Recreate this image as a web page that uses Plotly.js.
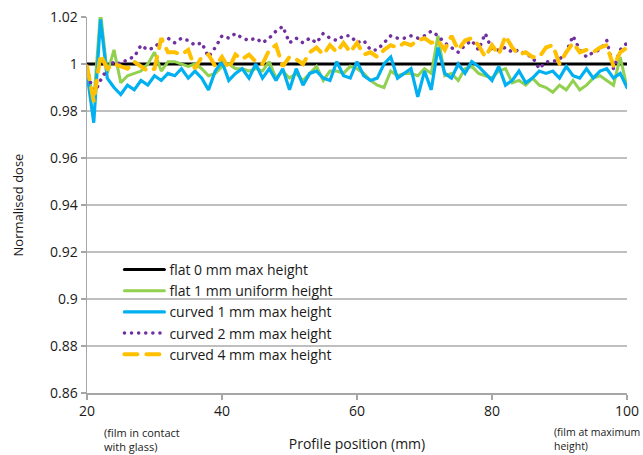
<!DOCTYPE html>
<html>
<head>
<meta charset="utf-8">
<script src="https://cdn.plot.ly/plotly-3.0.1.min.js"></script>
<style>
html,body{margin:0;padding:0;background:#fff;}
#chart{width:643px;height:455px;}
path.js-line{stroke-linecap:round;}
</style>
</head>
<body>
<div id="chart"></div>
<script>
// Profile position (mm)
const positions = [20,21,22,23,24,25,26,27,28,29,30,31,32,33,34,35,36,37,38,39,40,41,42,43,44,45,46,47,48,49,50,51,52,53,54,55,56,57,58,59,60,61,62,63,64,65,66,67,68,69,70,71,72,73,74,75,76,77,78,79,80,81,82,83,84,85,86,87,88,89,90,91,92,93,94,95,96,97,98,99,100];

const flat0 = [1,1,1,1,1,1,1,1,1,1,1,1,1,1,1,1,1,1,1,1,1,1,1,1,1,1,1,1,1,1,1,1,1,1,1,1,1,1,1,1,1,1,1,1,1,1,1,1,1,1,1,1,1,1,1,1,1,1,1,1,1,1,1,1,1,1,1,1,1,1,1,1,1,1,1,1,1,1,1,1,1];

const flat1 = [0.998,0.984,1.022,0.996,1.006,0.992,0.995,0.996,0.997,1.000,
1.005,0.997,1.001,1.001,1.000,0.999,1.000,0.998,0.995,0.996,
0.999,1.000,0.998,0.998,0.997,0.998,0.997,1.001,0.994,0.997,
0.994,0.996,0.993,0.996,0.999,0.993,0.997,0.997,0.996,0.999,
0.998,0.996,0.993,0.991,0.990,0.997,0.995,0.996,0.996,0.995,
0.998,0.996,1.012,0.995,0.996,0.993,0.998,0.999,0.996,0.995,
0.994,0.997,0.998,0.992,0.993,0.991,0.994,0.991,0.990,0.988,
0.991,0.989,0.993,0.989,0.991,0.994,0.995,0.993,0.991,1.003,
0.990];

const curved1 = [0.996,0.975,1.019,0.994,0.990,0.987,0.991,0.989,0.993,0.991,
0.995,0.993,0.996,0.995,0.998,0.994,0.997,0.994,0.989,0.997,
1.001,0.993,0.996,0.998,0.994,1.000,0.994,0.998,0.993,0.998,
0.989,0.998,0.991,0.996,0.997,0.994,0.993,1.001,0.995,0.994,
1.001,0.995,0.993,0.994,1.000,1.003,0.994,0.996,0.998,0.986,
0.997,0.989,1.007,0.996,0.994,1.000,0.996,1.001,0.999,0.996,
0.993,0.999,0.991,0.993,0.997,0.992,0.994,0.997,0.996,0.997,
0.994,0.999,0.995,0.994,0.998,0.994,0.997,0.998,0.994,0.996,
0.990];

const curved2 = [0.998,0.987,0.993,0.998,1.001,1.000,1.002,1.003,1.008,1.006,
1.007,1.010,1.011,1.009,1.011,1.010,1.008,1.009,1.003,1.007,
1.012,1.011,1.013,1.011,1.010,1.011,1.009,1.011,1.014,1.016,
1.009,1.011,1.009,1.011,1.009,1.013,1.011,1.010,1.012,1.012,
1.009,1.010,1.006,1.006,1.009,1.012,1.011,1.011,1.012,1.011,
1.012,1.014,1.012,1.009,1.007,1.005,1.008,1.010,1.006,1.013,
1.006,1.006,1.007,1.005,1.006,1.004,1.003,0.998,1.001,1.001,
1.002,1.005,1.012,1.006,1.003,1.005,1.006,1.010,0.998,1.006,
1.009];

const curved4 = [0.999,0.984,1.004,0.998,1.000,0.999,0.998,1.001,0.999,0.997,
0.998,1.011,1.005,1.005,1.004,1.006,0.998,1.003,1.004,0.999,
1.003,0.998,1.004,1.002,1.004,1.001,1.000,1.006,1.008,0.999,
1.003,1.002,1.000,1.005,1.007,1.004,1.008,1.005,1.009,1.005,
1.009,1.004,1.005,1.003,1.006,1.008,1.007,1.009,1.008,1.010,
1.011,1.009,1.010,1.006,1.012,1.006,1.010,1.011,1.008,1.003,
1.008,1.004,1.012,1.007,1.004,1.005,1.003,1.003,1.007,1.008,
1.000,1.005,1.009,1.005,1.006,1.005,1.007,1.008,0.999,1.005,
1.007];

const seriesNames = ["flat 0 mm max height","flat 1 mm uniform height","curved 1 mm max height","curved 2 mm max height","curved 4 mm max height"];
const yTickVals = [0.86,0.88,0.9,0.92,0.94,0.96,0.98,1,1.02];
const yTickText = ["0.86","0.88","0.9","0.92","0.94","0.96","0.98","1","1.02"];
const xTickVals = [20,40,60,80,100];
const xTickText = ["20","40","60","80","100"];

const FONT = "Open Sans, Noto Sans, sans-serif";
const TXT = "#1a1a1a";

const traces = [
  {x: positions, y: flat0, name: seriesNames[0], mode: "lines",
   line: {color: "#000000", width: 3}},
  {x: positions, y: flat1, name: seriesNames[1], mode: "lines",
   line: {color: "#92d050", width: 3}},
  {x: positions, y: curved1, name: seriesNames[2], mode: "lines",
   line: {color: "#00b0f0", width: 3.2}},
  {x: positions, y: curved2, name: seriesNames[3], mode: "lines",
   line: {color: "#7030a0", width: 3.5, dash: "0.1px,7px"}},
  {x: positions, y: curved4, name: seriesNames[4], mode: "lines",
   line: {color: "#ffc000", width: 4, dash: "13px,9px"}}
];

const layout = {
  width: 643, height: 455,
  margin: {l: 87, r: 16, t: 17, b: 62},
  paper_bgcolor: "#ffffff", plot_bgcolor: "#ffffff",
  font: {family: FONT, size: 13, color: TXT},
  showlegend: true,
  legend: {x: 0.06, y: 0.37, xanchor: "left", yanchor: "top",
           bgcolor: "rgba(0,0,0,0)", font: {family: FONT, size: 14, color: TXT},
           itemwidth: 40, tracegroupgap: 0},
  xaxis: {range: [20, 100], tickmode: "array", tickvals: xTickVals, ticktext: xTickText,
          showgrid: false, zeroline: false, showline: true, linecolor: "#a6a6a6", linewidth: 1.5,
          ticks: "outside", ticklen: 5, tickcolor: "#a6a6a6", tickwidth: 1.5,
          tickfont: {family: FONT, size: 14, color: TXT},
          title: {text: "Profile position (mm)", font: {family: FONT, size: 14, color: TXT}, standoff: 20}},
  yaxis: {range: [0.86, 1.02], tickmode: "array", tickvals: yTickVals, ticktext: yTickText,
          showgrid: true, gridcolor: "#bfbfbf", gridwidth: 1.5, zeroline: false,
          showline: true, linecolor: "#a6a6a6", linewidth: 1.5,
          ticks: "outside", ticklen: 5, tickcolor: "#a6a6a6", tickwidth: 1.5,
          tickfont: {family: FONT, size: 14, color: TXT},
          title: {text: "Normalised dose", font: {family: FONT, size: 13, color: TXT}, standoff: 23}},
  annotations: [
    {xref: "x", yref: "paper", x: 22.2, y: -0.08, xanchor: "left", yanchor: "top",
     text: "(film in contact<br>with glass)", showarrow: false, align: "left",
     font: {family: FONT, size: 11, color: TXT}},
    {xref: "paper", yref: "paper", x: 1.028, y: -0.08, xanchor: "right", yanchor: "top",
     text: "(film at maximum<br>height)", showarrow: false, align: "left",
     font: {family: FONT, size: 10.5, color: TXT}}
  ]
};

Plotly.newPlot("chart", traces, layout, {displayModeBar: false, staticPlot: true});
</script>
</body>
</html>
